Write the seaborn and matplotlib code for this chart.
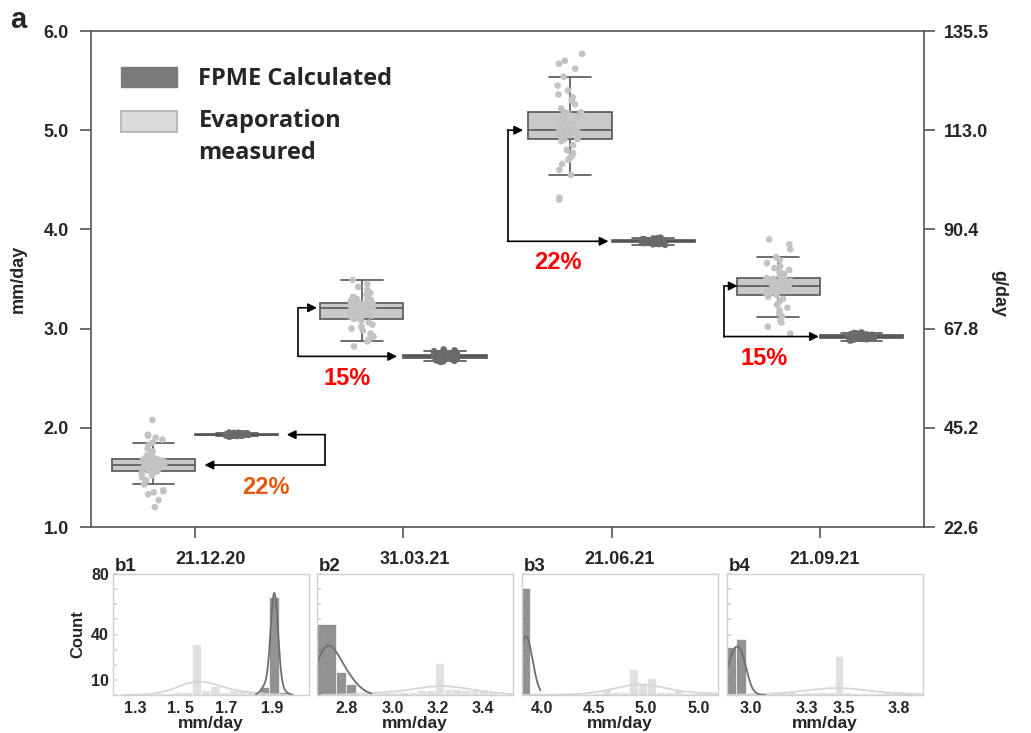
import numpy as np
import pandas as pd
import matplotlib
matplotlib.use("Agg")
import matplotlib.pyplot as plt
from matplotlib.patches import Patch
import seaborn as sns

# ---------------------------------------------------------------- data
dates = ["21.12.20", "31.03.21", "21.06.21", "21.09.21"]
series_names = ["Evaporation measured", "FPME Calculated"]

# measured evaporation (mm/day), one list per campaign
evap_1 = [1.20, 1.27, 1.33, 1.35, 1.36, 1.37,
          1.43, 1.47, 1.50, 1.52, 1.54, 1.55,
          1.56, 1.57,
          1.58, 1.59, 1.59, 1.60, 1.60, 1.61, 1.61, 1.62, 1.62, 1.62,
          1.62, 1.63,
          1.63, 1.64, 1.64, 1.65, 1.65, 1.66, 1.66, 1.67, 1.67, 1.68,
          1.68, 1.69,
          1.70, 1.72, 1.74, 1.76, 1.79, 1.82, 1.85,
          1.88, 1.90, 1.92, 1.93, 2.08]
evap_2 = [2.82,
          2.87, 2.89, 2.92, 2.95, 2.98, 3.00, 3.02, 3.04, 3.06, 3.08, 3.09,
          3.10, 3.10,
          3.12, 3.13, 3.14, 3.15, 3.16, 3.17, 3.18, 3.19, 3.20, 3.20,
          3.21, 3.21,
          3.22, 3.22, 3.23, 3.23, 3.24, 3.24, 3.25, 3.25, 3.25, 3.26,
          3.26, 3.26,
          3.27, 3.28, 3.29, 3.30, 3.31, 3.32, 3.34, 3.36, 3.39, 3.42, 3.45, 3.49]
evap_3 = [4.30, 4.32,
          4.55, 4.60, 4.66, 4.70, 4.72, 4.74, 4.77, 4.80, 4.85, 4.89,
          4.91, 4.91,
          4.92, 4.93, 4.94, 4.95, 4.96, 4.97, 4.98, 4.98, 4.99, 4.99,
          5.00, 5.00,
          5.01, 5.02, 5.04, 5.06, 5.08, 5.10, 5.12, 5.14, 5.15, 5.17,
          5.18, 5.18,
          5.22, 5.26, 5.30, 5.33, 5.36, 5.40, 5.45, 5.54, 5.62, 5.67, 5.70, 5.77]
evap_4 = [2.95, 3.02, 3.06, 3.08,
          3.12, 3.15, 3.18, 3.21, 3.24, 3.27, 3.30, 3.32,
          3.34, 3.34,
          3.35, 3.36, 3.37, 3.38, 3.39, 3.40, 3.40, 3.41, 3.42, 3.42,
          3.43, 3.43,
          3.44, 3.44, 3.45, 3.46, 3.47, 3.47, 3.48, 3.49, 3.50, 3.50,
          3.51, 3.51,
          3.53, 3.55, 3.57, 3.59, 3.61, 3.63, 3.66, 3.69, 3.72, 3.80, 3.85, 3.90]

# FPME calculated evaporation (mm/day)
fpme_1 = [1.910, 1.915, 1.918, 1.920, 1.920, 1.922, 1.923, 1.924, 1.925, 1.925,
          1.926, 1.926, 1.927, 1.927, 1.928, 1.928, 1.928, 1.929, 1.929, 1.929,
          1.930, 1.930, 1.930, 1.930, 1.931, 1.931, 1.931, 1.932, 1.932, 1.932,
          1.933, 1.933, 1.934, 1.934, 1.935, 1.935, 1.936, 1.936, 1.937, 1.938,
          1.939, 1.940, 1.940, 1.942, 1.943, 1.945, 1.946, 1.948, 1.950, 1.952]
fpme_2 = [2.665, 2.670, 2.675, 2.680, 2.685, 2.690, 2.695, 2.700, 2.700, 2.702,
          2.705, 2.706, 2.708, 2.710, 2.710, 2.712, 2.713, 2.714, 2.715, 2.716,
          2.717, 2.718, 2.719, 2.720, 2.720, 2.720, 2.721, 2.722, 2.723, 2.724,
          2.725, 2.726, 2.728, 2.730, 2.730, 2.732, 2.734, 2.736, 2.738, 2.740,
          2.742, 2.745, 2.748, 2.752, 2.756, 2.760, 2.766, 2.772, 2.780, 2.790]
fpme_3 = [3.845, 3.850, 3.853, 3.856, 3.858, 3.860, 3.862, 3.864, 3.865, 3.866,
          3.867, 3.868, 3.869, 3.870, 3.871, 3.872, 3.873, 3.874, 3.875, 3.876,
          3.877, 3.878, 3.879, 3.880, 3.880, 3.880, 3.881, 3.882, 3.883, 3.884,
          3.885, 3.886, 3.887, 3.888, 3.889, 3.890, 3.891, 3.892, 3.893, 3.894,
          3.895, 3.896, 3.897, 3.898, 3.900, 3.902, 3.905, 3.908, 3.912, 3.916]
fpme_4 = [2.880, 2.885, 2.890, 2.893, 2.896, 2.898, 2.900, 2.902, 2.904, 2.905,
          2.906, 2.907, 2.908, 2.909, 2.910, 2.911, 2.912, 2.913, 2.914, 2.915,
          2.916, 2.917, 2.918, 2.919, 2.920, 2.920, 2.921, 2.922, 2.923, 2.924,
          2.925, 2.926, 2.927, 2.928, 2.929, 2.930, 2.931, 2.932, 2.934, 2.936,
          2.938, 2.940, 2.942, 2.944, 2.946, 2.948, 2.950, 2.953, 2.956, 2.960]

pct_labels = ["22%", "15%", "22%", "15%"]

# right-axis scale (g/day)
gday_ticks = [22.6, 45.2, 67.8, 90.4, 113.0, 135.5]

# histogram panels: bin edges and counts for each series
hist_tags = ["b1", "b2", "b3", "b4"]
evap_edges = [
    [1.39, 1.43, 1.47, 1.51, 1.55, 1.59, 1.63, 1.67, 1.71, 1.75, 1.79, 1.83],
    [2.875, 2.914, 2.953, 2.992, 3.031, 3.070, 3.109, 3.148, 3.187, 3.226,
     3.265, 3.304, 3.343, 3.382, 3.421, 3.460],
    [4.141, 4.228, 4.315, 4.402, 4.489, 4.576, 4.663, 4.750, 4.837, 4.924,
     5.011, 5.098, 5.185, 5.272, 5.359, 5.446, 5.533, 5.620, 5.707],
    [3.110, 3.153, 3.196, 3.239, 3.282, 3.325, 3.368, 3.411, 3.454, 3.497,
     3.540, 3.583, 3.626, 3.669, 3.712, 3.755, 3.798, 3.841, 3.884],
]
evap_counts = [
    [1, 1, 2, 2, 34, 3, 6, 2, 3, 3, 2],
    [2, 2, 2, 2, 2, 2, 3, 3, 21, 4, 4, 3, 3, 3, 2],
    [1, 0, 0, 0, 1, 4, 2, 2, 17, 8, 11, 2, 2, 3, 1, 1, 1, 2],
    [1, 2, 2, 1, 2, 2, 2, 2, 26, 2, 1, 1, 1, 1, 2, 2, 1, 1],
]
# FPME frequency tables (value, count) and histogram bin edges
fpme_values = [
    [1.8665, 1.9095, 1.9525],
    [2.708, 2.774, 2.818],
    [3.820, 3.876],
    [2.8945, 2.946, 2.9965],
]
fpme_counts = [
    [5, 65, 2],
    [47, 15, 7],
    [36, 35],
    [32, 37, 1],
]
fpme_edges = [
    [1.845, 1.888, 1.931, 1.974],
    [2.664, 2.752, 2.796, 2.840],
    [3.805, 3.891],
    [2.870, 2.919, 2.973, 3.020],
]
hist_xlims = [(1.204, 2.061), (2.668, 3.532), (3.81, 5.69), (2.87, 3.93)]
hist_xticks = [[1.3, 1.5, 1.7, 1.9], [2.8, 3.0, 3.2, 3.4],
               [4.0, 4.5, 5.0, 5.5], [3.0, 3.3, 3.5, 3.8]]
hist_xticklabels = [["1.3", "1. 5", "1.7", "1.9"], ["2.8", "3.0", "3.2", "3.4"],
                    ["4.0", "4.5", "5.0", "5.0"], ["3.0", "3.3", "3.5", "3.8"]]
fpme_bw = [0.55, 1.0, 1.6, 1.0]

# ---------------------------------------------------------------- style
sns.set_theme(style="ticks")
plt.rcParams["font.family"] = ["Liberation Sans", "DejaVu Sans"]
plt.rcParams["font.weight"] = "bold"
plt.rcParams["axes.labelweight"] = "bold"

EVAP_BOX = "#c9c9c9"
FPME_BOX = "#6f6f6f"
EDGE = "#555555"
W, H = 1031, 733

fig = plt.figure(figsize=(W / 100, H / 100), dpi=100)

# ---------------------------------------------------------------- main panel
ax = fig.add_axes([91 / W, 1 - 527 / H, (924 - 91) / W, (527 - 31) / H])

evap_sets = [evap_1, evap_2, evap_3, evap_4]
fpme_sets = [fpme_1, fpme_2, fpme_3, fpme_4]
rows = []
for d, ev, fp in zip(dates, evap_sets, fpme_sets):
    rows += [(d, series_names[0], v) for v in ev]
    rows += [(d, series_names[1], v) for v in fp]
df = pd.DataFrame(rows, columns=["date", "source", "rate"])

sns.boxplot(data=df, x="date", y="rate", hue="source", order=dates,
            hue_order=series_names,
            palette={series_names[0]: EVAP_BOX, series_names[1]: FPME_BOX},
            saturation=1, width=0.8, showfliers=False, linecolor=EDGE,
            linewidth=1.2, legend=False, ax=ax)
np.random.seed(3)
sns.stripplot(data=df, x="date", y="rate", hue="source", order=dates,
              hue_order=series_names,
              palette={series_names[0]: "#c3c3c3", series_names[1]: "#6a6a6a"},
              dodge=True, jitter=0.12, size=4.8, linewidth=0, legend=False,
              ax=ax, zorder=3)

ax.set_xlim(-0.5, 3.5)
ax.set_ylim(1.0, 6.0)
ax.set_yticks([1, 2, 3, 4, 5, 6])
ax.set_yticklabels([f"{v:.1f}" for v in [1, 2, 3, 4, 5, 6]], fontsize=13,
                   fontweight="bold")
ax.set_xticks(range(len(dates)))
ax.set_xticklabels([])
ax.set_xlabel("")
ax.set_ylabel("mm/day", fontsize=13, fontweight="bold", labelpad=12)
ax.tick_params(axis="both", length=8, width=1.2, color=EDGE, pad=8)
for side in ["left", "bottom", "top"]:
    ax.spines[side].set_color(EDGE)
    ax.spines[side].set_linewidth(1.2)
ax.spines["right"].set_visible(False)

# right-hand axis in g/day
ax2 = ax.twinx()
ax2.set_ylim(22.6, 135.6)
ax2.set_yticks(gday_ticks)
ax2.set_yticklabels([f"{v:.1f}" for v in gday_ticks], fontsize=13,
                    fontweight="bold")
ax2.tick_params(axis="y", length=8, width=1.2, color=EDGE, pad=6)
for side in ["left", "bottom", "top"]:
    ax2.spines[side].set_visible(False)
ax2.spines["right"].set_color(EDGE)
ax2.spines["right"].set_linewidth(1.2)
ax2.set_ylabel("g/day", fontsize=13, fontweight="bold", rotation=270,
               labelpad=22)
ax2.yaxis.set_label_coords(1.10, 0.47)

# legend
handles = [Patch(facecolor="#7b7b7b", edgecolor="#7b7b7b"),
           Patch(facecolor="#dadada", edgecolor="#b0b0b0", linewidth=1.2)]
labels = [series_names[1], series_names[0].replace(" ", "\n", 1)]
leg = ax.legend(handles, labels, loc="upper left", bbox_to_anchor=(0.01, 0.97),
                frameon=False, handlelength=2.4, handleheight=0.95,
                handletextpad=0.9, labelspacing=0.75,
                prop=dict(family="Open Sans", weight="bold", size=17))
for t in leg.get_texts():
    t.set_linespacing(1.45)
# keep the second swatch level with the first line of its two-line label
swatch = leg.legend_handles[1]
swatch.set_y(swatch.get_y() + 12.0)

# elbow arrows linking measured and calculated medians
bracket_x = [0.625, 0.495, 1.50, 2.54]
tip_evap_x = [0.045, 0.585, 1.575, 2.605]
tip_fpme_x = [0.44, 0.97, 1.985, 2.995]
label_pos = [(0.34, 1.40), (0.73, 2.50), (1.74, 3.67), (2.73, 2.70)]
pct_colors = ["#e2580c", "#ff0000", "#ff0000", "#ff0000"]
arrow_kw = dict(arrowstyle="-|>", color="black", lw=1.2, mutation_scale=13,
                shrinkA=0, shrinkB=0)
for i in range(len(dates)):
    y_ev = float(np.median(evap_sets[i]))
    y_fp = float(np.median(fpme_sets[i]))
    bx = bracket_x[i]
    ax.plot([bx, bx], [y_ev, y_fp], color="black", lw=1.2, zorder=4)
    ax.annotate("", xy=(tip_evap_x[i], y_ev), xytext=(bx, y_ev),
                arrowprops=arrow_kw, zorder=4)
    ax.annotate("", xy=(tip_fpme_x[i], y_fp), xytext=(bx, y_fp),
                arrowprops=arrow_kw, zorder=4)
    ax.text(label_pos[i][0], label_pos[i][1], pct_labels[i], color=pct_colors[i],
            fontsize=17, fontweight="bold", ha="center", va="center")

fig.text(10 / W, 1 - 20 / H, "a", fontsize=21, fontweight="bold",
         ha="left", va="center")

# ---------------------------------------------------------------- histogram panels
hist_left = [113, 317, 522, 727]
for i in range(4):
    hax = fig.add_axes([hist_left[i] / W, 1 - 695 / H, 196 / W, 121 / H])
    e_edges = list(evap_edges[i])
    e_centers = [(a + b) / 2 for a, b in zip(e_edges[:-1], e_edges[1:])]
    e_df = pd.DataFrame({"rate": e_centers, "n": evap_counts[i]})
    f_df = pd.DataFrame({"rate": fpme_values[i], "n": fpme_counts[i]})

    sns.histplot(data=e_df, x="rate", weights="n", bins=e_edges, kde=True,
                 color="#d6d6d6", alpha=0.75, edgecolor="white", linewidth=0.5,
                 kde_kws=dict(cut=2), line_kws=dict(lw=1.3), ax=hax)
    sns.histplot(data=f_df, x="rate", weights="n", bins=list(fpme_edges[i]),
                 kde=True, color="#6e6e6e", alpha=0.75, edgecolor="white",
                 linewidth=0.5, kde_kws=dict(bw_adjust=fpme_bw[i], cut=2),
                 line_kws=dict(lw=1.3), ax=hax)

    hax.set_xlim(*hist_xlims[i])
    hax.set_ylim(0, 80)
    hax.set_xticks(hist_xticks[i])
    hax.set_xticklabels(hist_xticklabels[i], fontsize=11.5, fontweight="bold")
    hax.tick_params(axis="x", length=0, pad=4)
    hax.set_yticks(range(0, 81, 10))
    if i == 0:
        ylab = ["" if v not in (10, 40, 80) else str(v) for v in range(0, 81, 10)]
        hax.set_yticklabels(ylab, fontsize=11.5, fontweight="bold")
        hax.set_ylabel("Count", fontsize=12, fontweight="bold", labelpad=4)
    else:
        hax.set_yticklabels([])
        hax.set_ylabel("")
    hax.tick_params(axis="y", direction="in", length=3, color="#d0d0d0", pad=3)
    hax.set_xlabel("mm/day", fontsize=12.5, fontweight="bold", labelpad=0)
    hax.set_title(dates[i], fontsize=13, fontweight="bold", pad=7)
    hax.text(0.01, 0.995, hist_tags[i], transform=hax.transAxes, ha="left",
             va="bottom", fontsize=13.5, fontweight="bold")
    for sp in hax.spines.values():
        sp.set_color("#d0d0d0")
        sp.set_linewidth(1.0)

fig.savefig("out.png", dpi=100)
